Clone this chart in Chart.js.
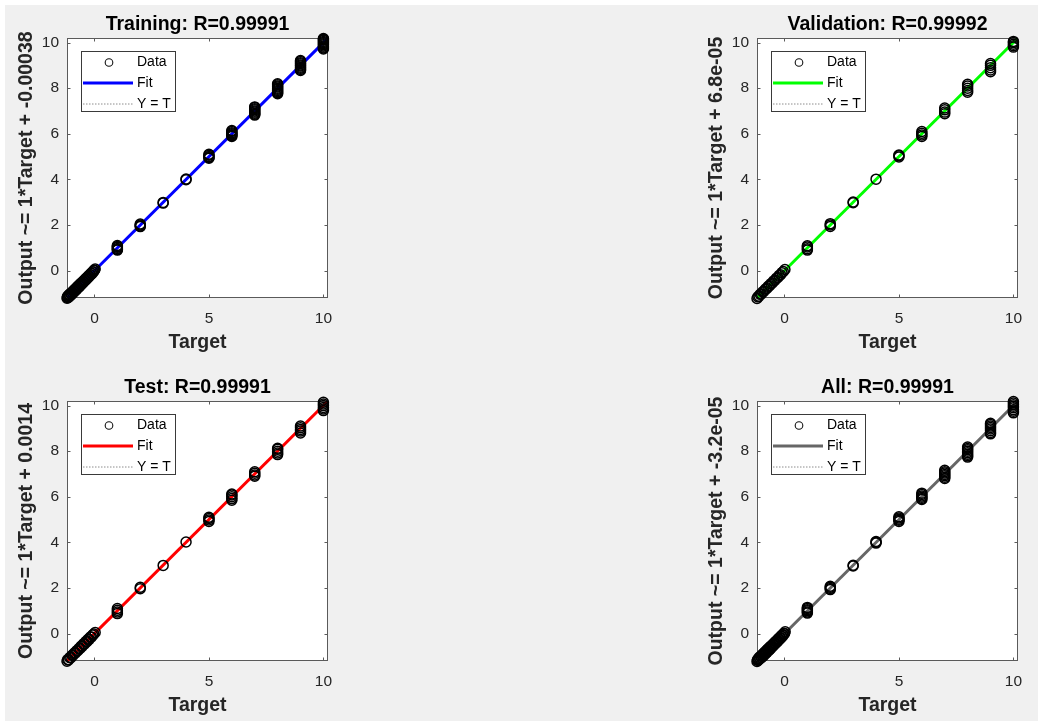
<!DOCTYPE html>
<html>
<head>
<meta charset="utf-8">
<script src="https://cdn.jsdelivr.net/npm/chart.js@4.4.1/dist/chart.umd.min.js"></script>
<style>
  html, body { margin: 0; padding: 0; background: #ffffff; width: 1038px; height: 725px; overflow: hidden; }
  #figure { position: absolute; left: 5px; top: 5px; width: 1033px; height: 716px; background: #f0f0f0; }
  canvas { position: absolute; }
</style>
</head>
<body>
<div id="figure"></div>
<canvas id="panel0" width="345" height="360" style="left:0px;top:0px"></canvas>
<canvas id="panel1" width="345" height="360" style="left:690px;top:0px"></canvas>
<canvas id="panel2" width="345" height="360" style="left:0px;top:363px"></canvas>
<canvas id="panel3" width="345" height="360" style="left:690px;top:363px"></canvas>
<script>
// ---- regression summary per subset ----
const panelNames    = ['Training', 'Validation', 'Test', 'All'];
const rValues       = [0.99991, 0.99992, 0.99991, 0.99991];
const fitSlopes     = [1, 1, 1, 1];
const fitIntercepts = [-0.00038, 6.8e-05, 0.0014, -3.2e-05];
const fitColors     = ['#0000ff', '#00ff00', '#ff0000', '#666666'];

// ---- axes ----
const axisLimits  = [-1.2, 10.2];
const xTickValues = [0, 5, 10];
const yTickValues = [0, 2, 4, 6, 8, 10];

// ---- targets with discrete levels ----
const clusterTargets = [1, 2, 3, 4, 5, 6, 7, 8, 9, 10];

// ---- Training ----
const trainingBandTargets = [
  -1.20, -1.18, -1.16, -1.14, -1.12, -1.10, -1.07, -1.04, -1.01, -0.98,
  -0.95, -0.92, -0.89, -0.86, -0.83, -0.80, -0.77, -0.74, -0.71, -0.68,
  -0.65, -0.62, -0.59, -0.56, -0.53, -0.50, -0.47, -0.44, -0.41, -0.38,
  -0.35, -0.32, -0.29, -0.26, -0.23, -0.20, -0.17, -0.14, -0.11, -0.08,
  -0.05, -0.02, 0.00, 0.03];
const trainingBandOutputs = [
  -1.21, -1.14, -1.19, -1.09, -1.15, -1.05, -1.11, -1.00, -1.05, -0.94,
  -0.99, -0.88, -0.93, -0.82, -0.87, -0.76, -0.81, -0.70, -0.75, -0.64,
  -0.69, -0.58, -0.63, -0.53, -0.56, -0.47, -0.50, -0.41, -0.44, -0.35,
  -0.38, -0.29, -0.32, -0.23, -0.25, -0.17, -0.19, -0.11, -0.13, -0.05,
  -0.06, 0.01, 0.02, 0.07];
const trainingClusterOutputs = [
  [0.90, 0.93, 0.97, 1.02, 1.06, 1.10],
  [1.93, 1.96, 2.00, 2.04],
  [2.96, 2.99],
  [3.99, 4.02],
  [4.93, 4.96, 5.00, 5.06, 5.10],
  [5.88, 5.92, 5.96, 6.00, 6.05, 6.10, 6.14],
  [6.82, 6.86, 6.90, 6.95, 7.00, 7.05, 7.10, 7.15, 7.18],
  [7.76, 7.80, 7.85, 7.90, 7.95, 8.00, 8.05, 8.10, 8.15, 8.19],
  [8.78, 8.82, 8.87, 8.92, 8.97, 9.02, 9.07, 9.12, 9.17, 9.21],
  [9.72, 9.76, 9.80, 9.85, 9.90, 9.95, 10.00, 10.05, 10.10, 10.14, 10.18]];

// ---- Validation ----
const validationBandTargets = [
  -1.20, -1.16, -1.11, -1.06, -1.01, -0.95, -0.89, -0.83, -0.77, -0.71,
  -0.65, -0.59, -0.53, -0.47, -0.41, -0.35, -0.29, -0.23, -0.17, -0.11,
  -0.05, 0.02];
const validationBandOutputs = [
  -1.22, -1.15, -1.12, -1.04, -1.02, -0.93, -0.90, -0.81, -0.78, -0.69,
  -0.66, -0.57, -0.54, -0.45, -0.42, -0.33, -0.30, -0.21, -0.18, -0.09,
  -0.04, 0.05];
const validationClusterOutputs = [
  [0.90, 0.96, 1.04, 1.09],
  [1.94, 2.00, 2.06],
  [2.98, 3.01],
  [4.01],
  [4.98, 5.04, 5.07],
  [5.88, 5.95, 6.02, 6.10],
  [6.88, 6.95, 7.05, 7.13],
  [7.82, 7.90, 8.00, 8.10, 8.17],
  [8.72, 8.80, 8.90, 9.00, 9.08],
  [9.80, 9.86, 9.93, 10.00, 10.05]];

// ---- Test ----
const testBandTargets = [
  -1.20, -1.17, -1.13, -1.08, -1.03, -0.98, -0.93, -0.88, -0.83, -0.78,
  -0.73, -0.68, -0.63, -0.58, -0.53, -0.48, -0.43, -0.38, -0.33, -0.28,
  -0.23, -0.18, -0.13, -0.08, -0.03, 0.03];
const testBandOutputs = [
  -1.21, -1.14, -1.15, -1.05, -1.05, -0.95, -0.95, -0.85, -0.85, -0.75,
  -0.75, -0.65, -0.65, -0.55, -0.55, -0.45, -0.45, -0.35, -0.35, -0.25,
  -0.25, -0.15, -0.15, -0.06, -0.02, 0.05];
const testClusterOutputs = [
  [0.88, 0.95, 1.02, 1.10],
  [1.97, 2.03],
  [2.99],
  [4.02],
  [4.92, 4.98, 5.05, 5.10],
  [5.85, 5.92, 6.00, 6.08, 6.12],
  [6.90, 6.96, 7.03, 7.10],
  [7.85, 7.92, 8.00, 8.08, 8.13],
  [8.80, 8.88, 8.95, 9.03, 9.10],
  [9.78, 9.85, 9.92, 10.00, 10.07, 10.14]];

// ---- All ----
const allBandTargets = [
  -1.20, -1.18, -1.16, -1.14, -1.12, -1.10, -1.07, -1.04, -1.01, -0.98,
  -0.95, -0.92, -0.89, -0.86, -0.83, -0.80, -0.77, -0.74, -0.71, -0.68,
  -0.65, -0.62, -0.59, -0.56, -0.53, -0.50, -0.47, -0.44, -0.41, -0.38,
  -0.35, -0.32, -0.29, -0.26, -0.23, -0.20, -0.17, -0.14, -0.11, -0.08,
  -0.05, -0.02, 0.00, 0.03];
const allBandOutputs = [
  -1.22, -1.15, -1.18, -1.10, -1.14, -1.04, -1.10, -0.99, -1.06, -0.93,
  -1.00, -0.87, -0.94, -0.81, -0.88, -0.75, -0.82, -0.69, -0.76, -0.63,
  -0.70, -0.57, -0.64, -0.52, -0.57, -0.46, -0.51, -0.40, -0.45, -0.34,
  -0.39, -0.28, -0.33, -0.22, -0.26, -0.16, -0.20, -0.10, -0.14, -0.04,
  -0.07, 0.01, 0.01, 0.08];
const allClusterOutputs = [
  [0.90, 0.95, 1.00, 1.05, 1.10, 1.15],
  [1.93, 1.98, 2.03, 2.08],
  [2.97, 3.00],
  [3.97, 4.01, 4.04],
  [4.92, 4.97, 5.02, 5.07, 5.12],
  [5.88, 5.93, 5.98, 6.04, 6.10, 6.16],
  [6.80, 6.86, 6.92, 6.98, 7.04, 7.10, 7.16],
  [7.74, 7.80, 7.86, 7.93, 8.00, 8.06, 8.12, 8.18],
  [8.76, 8.82, 8.90, 8.97, 9.04, 9.10, 9.17, 9.22],
  [9.68, 9.75, 9.82, 9.90, 9.97, 10.04, 10.11, 10.18]];

const bandTargets    = [trainingBandTargets, validationBandTargets, testBandTargets, allBandTargets];
const bandOutputs    = [trainingBandOutputs, validationBandOutputs, testBandOutputs, allBandOutputs];
const clusterOutputs = [trainingClusterOutputs, validationClusterOutputs, testClusterOutputs, allClusterOutputs];

// ---- styling ----
const FONT = '"Liberation Sans", Arial, Helvetica, sans-serif';
const TEXT_COLOR = '#262626';
const AXIS_COLOR = '#5a5a5a';
const TICK_LEN = 3;

// %g-like formatting with two significant digits
function formatG(v) {
  if (v === 0) return '0';
  const e = Math.floor(Math.log10(Math.abs(v)));
  if (e < -4 || e >= 5) {
    return v.toExponential(1).replace(/e([+-])(\d+)$/, (m, s, d) => 'e' + s + (d.length < 2 ? '0' + d : d));
  }
  return String(Number(v.toPrecision(2)));
}

function scatterPoints(i) {
  const pts = bandTargets[i].map((t, k) => ({ x: t, y: bandOutputs[i][k] }));
  clusterTargets.forEach((t, c) => {
    clusterOutputs[i][c].forEach(o => pts.push({ x: t, y: o }));
  });
  return pts;
}

// white axes background, box and inward ticks on all four sides
const axesFrame = {
  id: 'axesFrame',
  beforeDatasetsDraw(chart) {
    const { ctx, chartArea: a, scales: { x, y } } = chart;
    const L = Math.round(a.left) + 0.5, R = Math.round(a.right) - 0.5;
    const T = Math.round(a.top) + 0.5, B = Math.round(a.bottom) - 0.5;
    ctx.save();
    ctx.fillStyle = '#ffffff';
    ctx.fillRect(a.left, a.top, a.right - a.left, a.bottom - a.top);
    ctx.strokeStyle = AXIS_COLOR;
    ctx.lineWidth = 1;
    ctx.strokeRect(L, T, R - L, B - T);
    ctx.beginPath();
    x.ticks.forEach(t => {
      const px = Math.round(x.getPixelForValue(t.value)) + 0.5;
      ctx.moveTo(px, B); ctx.lineTo(px, B - TICK_LEN);
      ctx.moveTo(px, T); ctx.lineTo(px, T + TICK_LEN);
    });
    y.ticks.forEach(t => {
      const py = Math.round(y.getPixelForValue(t.value)) + 0.5;
      ctx.moveTo(L, py); ctx.lineTo(L + TICK_LEN, py);
      ctx.moveTo(R, py); ctx.lineTo(R - TICK_LEN, py);
    });
    ctx.stroke();
    ctx.restore();
  }
};

// boxed legend in the upper-left corner of the axes, and the panel title
const panelLegend = {
  id: 'panelLegend',
  afterDatasetsDraw(chart, args, opts) {
    const { ctx, chartArea: a } = chart;
    const bx = Math.round(a.left) + 14, by = Math.round(a.top) + 13, bw = 95, bh = 61;
    const rows = [11.5, 32, 53];
    ctx.save();
    ctx.fillStyle = '#ffffff';
    ctx.fillRect(bx, by, bw, bh);
    ctx.strokeStyle = '#3a3a3a';
    ctx.lineWidth = 1;
    ctx.strokeRect(bx + 0.5, by + 0.5, bw - 1, bh - 1);
    ctx.font = '14px ' + FONT;
    ctx.textAlign = 'left';
    ctx.textBaseline = 'middle';
    chart.data.datasets.forEach((ds, i) => {
      const yy = by + rows[i];
      if (!ds.showLine) {
        ctx.beginPath();
        ctx.setLineDash([]);
        ctx.strokeStyle = '#111111';
        ctx.lineWidth = 1.1;
        ctx.arc(bx + 28, yy, 3.8, 0, Math.PI * 2);
        ctx.stroke();
      } else {
        ctx.beginPath();
        ctx.setLineDash(ds.borderDash || []);
        ctx.strokeStyle = ds.borderColor;
        ctx.lineWidth = ds.borderWidth;
        ctx.moveTo(bx + 2, yy);
        ctx.lineTo(bx + 52, yy);
        ctx.stroke();
      }
      ctx.setLineDash([]);
      ctx.fillStyle = '#000000';
      ctx.fillText(ds.label, bx + 56, yy);
    });
    ctx.restore();
  },
  afterDraw(chart, args, opts) {
    const { ctx, chartArea: a } = chart;
    ctx.save();
    ctx.font = 'bold 19.5px ' + FONT;
    ctx.fillStyle = '#000000';
    ctx.textAlign = 'center';
    ctx.textBaseline = 'alphabetic';
    ctx.fillText(opts.text, (a.left + a.right) / 2, a.top - 8);
    ctx.restore();
  }
};

panelNames.forEach((name, i) => {
  const m = fitSlopes[i], b = fitIntercepts[i];
  const fitLine = axisLimits.map(v => ({ x: v, y: m * v + b }));
  const identity = axisLimits.map(v => ({ x: v, y: v }));
  const yLabel = 'Output ~= ' + formatG(m) + '*Target + ' + formatG(b);

  new Chart(document.getElementById('panel' + i), {
    type: 'scatter',
    data: {
      datasets: [
        {
          label: 'Data', data: scatterPoints(i), showLine: false,
          pointStyle: 'circle', pointRadius: 5, pointHoverRadius: 5,
          pointBorderWidth: 1.5, pointBorderColor: '#000000',
          pointBackgroundColor: 'rgba(0,0,0,0)', borderColor: '#000000',
          clip: false
        },
        {
          label: 'Fit', data: fitLine, showLine: true,
          borderColor: fitColors[i], borderWidth: 3, pointRadius: 0, fill: false
        },
        {
          label: 'Y = T', data: identity, showLine: true,
          borderColor: '#8c8c8c', borderWidth: 1, borderDash: [1.5, 1.5], pointRadius: 0, fill: false
        }
      ]
    },
    options: {
      responsive: false,
      animation: false,
      devicePixelRatio: 1,
      events: [],
      layout: { padding: { top: 38, right: 17, left: 0, bottom: 0 } },
      plugins: {
        legend: { display: false },
        title: { display: false },
        tooltip: { enabled: false },
        panelLegend: { text: name + ': R=' + String(rValues[i]) }
      },
      scales: {
        x: {
          type: 'linear', min: axisLimits[0], max: axisLimits[1],
          grid: { display: false, drawTicks: false }, border: { display: false },
          afterBuildTicks: s => { s.ticks = xTickValues.map(v => ({ value: v })); },
          afterFit: s => { s.height = 62; },
          ticks: { font: { family: FONT, size: 15.5 }, color: TEXT_COLOR, padding: 11, maxRotation: 0, autoSkip: false },
          title: {
            display: true, text: 'Target', color: TEXT_COLOR,
            font: { family: FONT, size: 19.5, weight: 'bold' },
            padding: { top: 0, bottom: 6 }
          }
        },
        y: {
          type: 'linear', min: axisLimits[0], max: axisLimits[1],
          grid: { display: false, drawTicks: false }, border: { display: false },
          afterBuildTicks: s => { s.ticks = yTickValues.map(v => ({ value: v })); },
          afterFit: s => { s.width = 67; },
          ticks: { font: { family: FONT, size: 15.5 }, color: TEXT_COLOR, padding: 8, autoSkip: false },
          title: {
            display: true, text: yLabel, color: TEXT_COLOR,
            font: { family: FONT, size: 19.5, weight: 'bold' },
            padding: { top: 15, bottom: 0 }
          }
        }
      }
    },
    plugins: [axesFrame, panelLegend]
  });
});
</script>
</body>
</html>
